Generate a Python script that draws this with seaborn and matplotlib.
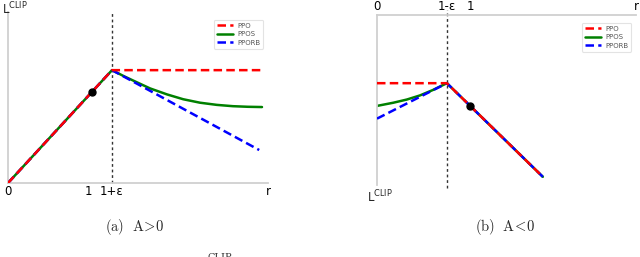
import matplotlib
matplotlib.use("Agg")
import matplotlib.pyplot as plt
import seaborn as sns
import pandas as pd

sns.set_theme(style="white")
plt.rcParams['font.family'] = ['DejaVu Sans']

# ---- Panel (a) A>0 : data ----
a_ppo_r = [0.0, 1.3, 3.175]
a_ppo_L = [0.0, 1.3, 1.3]
a_ppos_r = [0.0, 1.3, 1.45, 1.6, 1.775, 1.99, 2.19, 2.4, 2.61, 2.81, 3.0, 3.175]
a_ppos_L = [0.0, 1.3, 1.23, 1.165, 1.09, 1.02, 0.965, 0.925, 0.9, 0.885, 0.878, 0.875]
a_pporb_r = [0.0, 1.3, 3.14]
a_pporb_L = [0.0, 1.3, 0.38]
a_dot = (1.05, 1.05)
a_ticks = [0.0, 1.0, 1.3, 3.25]
a_ticklabels = ["0", "1", "1+ε", "r"]

# ---- Panel (b) A<0 ----
b_ppo_r = [0.0, 0.75, 1.78]
b_ppo_L = [-0.75, -0.75, -1.78]
b_ppos_r = [0.0, 0.175, 0.32, 0.46, 0.60, 0.75, 1.78]
b_ppos_L = [-1.0, -0.965, -0.93, -0.885, -0.825, -0.75, -1.78]
b_pporb_r = [0.0, 0.75, 1.78]
b_pporb_L = [-1.14, -0.75, -1.78]
b_dot = (1.0, -1.0)
b_ticks = [0.0, 0.75, 1.0, 2.78]
b_ticklabels = ["0", "1-ε", "1", "r"]

labels = ["PPO", "PPOS", "PPORB"]
colors = {"PPO": "red", "PPOS": "green", "PPORB": "blue"}

fig = plt.figure(figsize=(6.4, 2.57), dpi=100)
axA = fig.add_axes([8/640, 1-183/257, 260/640, 171/257])
axB = fig.add_axes([377/640, 1-185/257, 259/640, 170/257])


def draw(ax, series, dot, vline, vmin, vmax):
    handles = {}
    zorders = {"PPOS": 2, "PPORB": 3, "PPO": 4}
    for name, (r, L) in series.items():
        df = pd.DataFrame({"r": r, "L": L})
        ls = "-" if name == "PPOS" else (0, (3.4, 1.7))
        sns.lineplot(data=df, x="r", y="L", ax=ax, color=colors[name],
                     linestyle=ls, linewidth=1.8, sort=False,
                     zorder=zorders[name], estimator=None)
        handles[name] = ax.lines[-1]
    ax.plot([dot[0]], [dot[1]], "o", color="black", markersize=5, zorder=6)
    ax.axvline(vline, ymin=vmin, ymax=vmax, color="#333333",
               linestyle=(0, (2, 2)), linewidth=1.0, zorder=1, clip_on=False)
    leg = ax.legend([handles[n] for n in labels], labels, loc="upper right",
                    fontsize=5, frameon=True, handlelength=2.3,
                    handletextpad=0.6, borderpad=0.45, labelspacing=0.35,
                    bbox_to_anchor=(0.995, 0.975), fancybox=True)
    leg.get_frame().set_edgecolor("#dddddd")
    leg.get_frame().set_linewidth(0.8)
    for t in leg.get_texts():
        t.set_color("#555555")
    for s in ax.spines.values():
        s.set_color("#d0d0d0")
        s.set_linewidth(1.3)
    ax.set_xlabel("")
    ax.set_ylabel("")
    ax.set_yticks([])
    ax.tick_params(axis="x", length=0, pad=1.5, labelsize=8.5, colors="black")


draw(axA, {"PPOS": (a_ppos_r, a_ppos_L), "PPORB": (a_pporb_r, a_pporb_L),
           "PPO": (a_ppo_r, a_ppo_L)}, a_dot, 1.3, 0.0, 1.0)
axA.set_xlim(0, 3.25)
axA.set_ylim(0, 1.97)
axA.spines["top"].set_visible(False)
axA.spines["right"].set_visible(False)
axA.set_xticks(a_ticks)
axA.set_xticklabels(a_ticklabels)
fig.text(2/640, 1-1/257, r"L$^{\mathregular{CLIP}}$", fontsize=8.5,
         ha="left", va="top")

draw(axB, {"PPOS": (b_ppos_r, b_ppos_L), "PPORB": (b_pporb_r, b_pporb_L),
           "PPO": (b_ppo_r, b_ppo_L)}, b_dot, 0.75, -0.02, 1.03)
axB.set_xlim(0, 2.78)
axB.set_ylim(-1.87, 0)
axB.spines["bottom"].set_visible(False)
axB.spines["right"].set_visible(False)
axB.xaxis.tick_top()
axB.set_xticks(b_ticks)
axB.set_xticklabels(b_ticklabels)
axB.text(-0.04, -0.02, r"L$^{\mathregular{CLIP}}$", transform=axB.transAxes,
         fontsize=8.5, ha="left", va="top")

fig.text(135/640, 1-227/257, r"$\mathrm{(a)\ \ A\!>\!0}$", ha="center",
         va="center", fontsize=10.5, math_fontfamily="cm")
fig.text(505/640, 1-227/257, r"$\mathrm{(b)\ \ A\!<\!0}$", ha="center",
         va="center", fontsize=10.5, math_fontfamily="cm")
fig.text(220/640, 3.5/257, "CLIP", ha="center", va="top", fontsize=7,
         family="DejaVu Serif", color="#333333")

fig.savefig("out.png", dpi=100)
